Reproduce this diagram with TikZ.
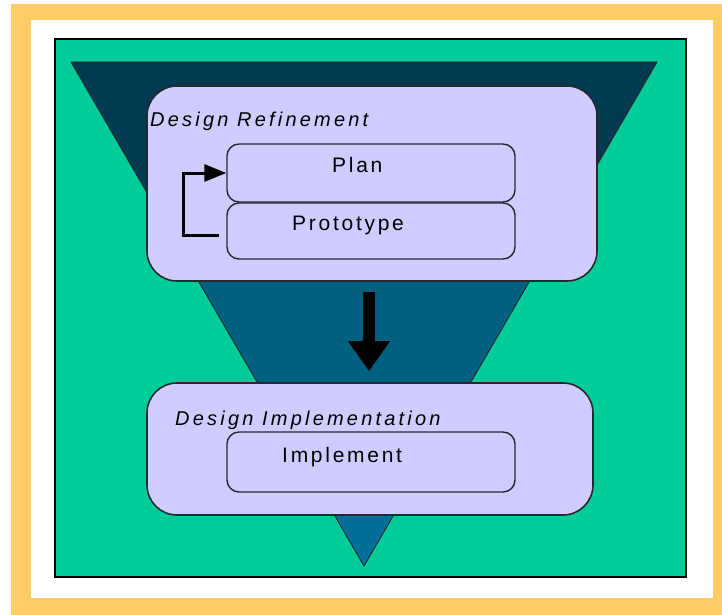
\documentclass[tikz,border=0pt]{standalone}
\usepackage{fontspec}
\setmainfont{Liberation Sans}
\usetikzlibrary{arrows.meta}

\definecolor{frameorange}{RGB}{255,204,102}
\definecolor{seagreen}{RGB}{0,204,153}
\definecolor{funneltop}{RGB}{0,58,80}
\definecolor{funnelmid}{RGB}{0,96,128}
\definecolor{funnelbot}{RGB}{0,112,155}
\definecolor{lavender}{RGB}{207,204,255}
\definecolor{edgegray}{RGB}{40,40,48}

\begin{document}
\begin{tikzpicture}[x=1pt,y=-1pt,
  stage/.style={draw=edgegray, line width=1.6pt, fill=lavender, rounded corners=30pt, inner sep=0pt},
  task/.style={draw=edgegray, line width=1.4pt, fill=lavender, rounded corners=12pt, inner sep=0pt, minimum width=288pt},
  heading/.style={inner sep=0pt, anchor=base west, font=\fontsize{20}{24}\selectfont\itshape\addfontfeatures{LetterSpace=16}},
  tasktext/.style={inner sep=0pt, anchor=base west, font=\fontsize{21}{25}\selectfont\addfontfeatures{LetterSpace=13}},
  loop/.style={line width=3pt, -{Triangle[length=22pt,width=17pt]}},
  flow/.style={line width=12pt, -{Triangle[length=30pt,width=40pt]}}
]
\useasboundingbox (0,0) rectangle (722,615);

% page and orange frame
\fill[white] (0,0) rectangle (722,615);
\fill[frameorange] (11,4) rectangle (730,625);
\fill[white] (31,20) rectangle (713,598);

% green panel
\filldraw[fill=seagreen, draw=black, line width=1.2pt] (55,39) rectangle (686,577);

% shaded funnel
\begin{scope}
  \clip (71,62) -- (657,62) -- (364,566) -- cycle;
  \fill[funneltop] (0,0) rectangle (722,230);
  \fill[funnelmid] (0,230) rectangle (722,450);
  \fill[funnelbot] (0,450) rectangle (722,615);
\end{scope}
\draw[edgegray, line width=0.9pt, line join=round] (71,62) -- (657,62) -- (364,566) -- cycle;

% stages
\node[stage, minimum width=450pt, minimum height=195pt] (r1) at (372,183.5) {};
\node[stage, minimum width=446pt, minimum height=132pt] (r2) at (370,449) {};

% tasks
\node[task, minimum height=58pt] (plan) at (371,173) {};
\node[task, minimum height=56pt] (proto) at (371,231) {};
\node[task, minimum height=60pt] (impl) at (371,462) {};

% labels
\node[heading] (r1t) at (150,127) {Design Refinement};
\node[heading] (r2t) at (175,425) {Design Implementation};
\node[tasktext] (plant) at (332,172) {Plan};
\node[tasktext] (protot) at (292,230) {Prototype};
\node[tasktext] (implt) at (282,462) {Implement};

% connectors
\draw[loop] ([shift={(-7,4)}]proto.west) -- ++(-36,0) |- (plan.west);
\draw[flow] ([shift={(-3,10)}]r1.south) -- ([shift={(-1,-11)}]r2.north);
\end{tikzpicture}
\end{document}
